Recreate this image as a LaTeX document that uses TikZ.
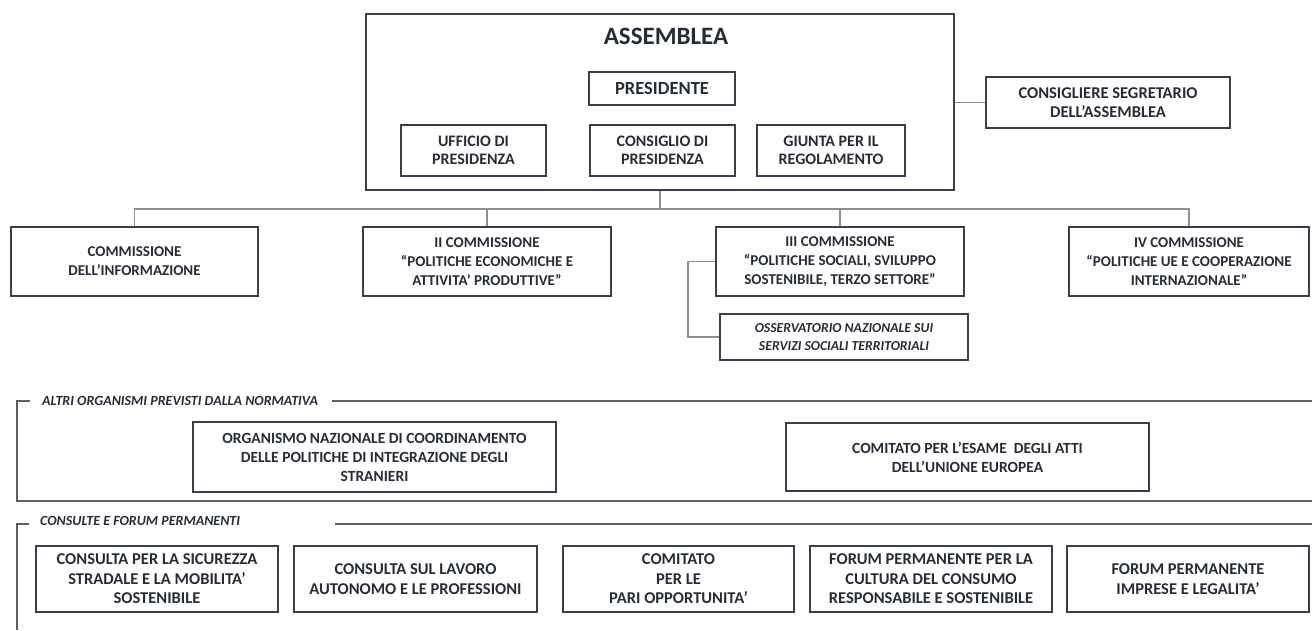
\documentclass[tikz,border=0pt]{standalone}
\usepackage{fontspec}
\setmainfont{Carlito}
\definecolor{txt}{HTML}{262C38}
\definecolor{bord}{HTML}{3A404B}
\definecolor{conn}{HTML}{8A8F98}
\definecolor{frm}{HTML}{5A606B}
\tikzset{
  box/.style={draw=bord, line width=1.7pt, rectangle, align=center, inner sep=0pt,
     text=txt, font=\fontsize{15}{19}\selectfont\bfseries},
  bigbox/.style={box, font=\fontsize{16.5}{19.5}\selectfont\bfseries},
  midbox/.style={box, font=\fontsize{15.5}{19}\selectfont\bfseries},
  topbox/.style={box, font=\fontsize{16}{18}\selectfont\bfseries},
  ibox/.style={box, font=\fontsize{13.7}{18}\selectfont\bfseries\itshape},
  conline/.style={draw=conn, line width=1.2pt},
  frline/.style={draw=frm, line width=1.5pt},
  ftitle/.style={anchor=west, inner sep=0pt, text=txt, font=\fontsize{14}{16}\selectfont\bfseries\itshape}
}
\begin{document}
\begin{tikzpicture}[x=1pt,y=-1pt]
\useasboundingbox (0,0) rectangle (1312,630);
% Assemblea block
\node[box, minimum width=588pt, minimum height=176pt] (assem) at (660,102) {};
\node[text=txt, font=\fontsize{25}{28}\selectfont\bfseries, inner sep=0pt] (assemt) at (666,36) {ASSEMBLEA};
\node[box, minimum width=146pt, minimum height=33pt, font=\fontsize{18.5}{20}\selectfont\bfseries] (pres) at (662,88.5) {PRESIDENTE};
\node[topbox, minimum width=145pt, minimum height=51pt] (uff) at (473.5,150.5) {UFFICIO DI\\PRESIDENZA};
\node[topbox, minimum width=145pt, minimum height=51pt] (cons) at (662.5,150.5) {CONSIGLIO DI\\PRESIDENZA};
\node[topbox, minimum width=148pt, minimum height=51pt] (giunta) at (831,150.5) {GIUNTA PER IL\\REGOLAMENTO};
\node[box, minimum width=244pt, minimum height=51pt, font=\fontsize{16.5}{18.5}\selectfont\bfseries] (segr) at (1108,102.5) {CONSIGLIERE SEGRETARIO\\DELL’ASSEMBLEA};
\draw[conline] (assem.east |- segr.west) -- (segr.west);
% Commissions
\node[box, minimum width=247pt, minimum height=69pt] (c1) at (134.5,261.5) {COMMISSIONE\\DELL’INFORMAZIONE};
\node[box, minimum width=248pt, minimum height=69pt] (c2) at (487,261.5) {II COMMISSIONE\\“POLITICHE ECONOMICHE E\\ATTIVITA’ PRODUTTIVE”};
\node[box, minimum width=248pt, minimum height=69pt] (c3) at (840,261.5) {III COMMISSIONE\\“POLITICHE SOCIALI, SVILUPPO\\SOSTENIBILE, TERZO SETTORE”};
\node[box, minimum width=240pt, minimum height=69pt] (c4) at (1189,261.5) {IV COMMISSIONE\\“POLITICHE UE E COOPERAZIONE\\INTERNAZIONALE”};
\node[ibox, minimum width=248pt, minimum height=46pt] (obs) at (844,337) {OSSERVATORIO NAZIONALE SUI\\SERVIZI SOCIALI TERRITORIALI};
\coordinate (bus) at (661,209);
\draw[conline] (assem.south) -- (assem.south |- bus);
\draw[conline] (c1.north) -- (c1.north |- bus) -- (c4.north |- bus) -- (c4.north);
\draw[conline] (c2.north) -- (c2.north |- bus);
\draw[conline] (c3.north) -- (c3.north |- bus);
\coordinate (obsx) at (688,0);
\draw[conline] (c3.west) -- (c3.west -| obsx) |- (obs.west);
% Frame 2
\node[ftitle] (f2t) at (42,401) {ALTRI ORGANISMI PREVISTI DALLA NORMATIVA};
\coordinate (f2tl) at (17,401);
\coordinate (f2bl) at (17,501);
\coordinate (f2br) at (1312,501);
\coordinate (f2tr) at (1312,401);
\draw[frline] (f2t.west) ++(-12,0) -- (f2tl) -- (f2bl) -- (f2br);
\draw[frline] (f2t.east) ++(14,0) -- (f2tr);
\node[midbox, minimum width=363pt, minimum height=70pt] (org) at (374.5,457) {ORGANISMO NAZIONALE DI COORDINAMENTO\\DELLE POLITICHE DI INTEGRAZIONE DEGLI\\STRANIERI};
\node[midbox, minimum width=363pt, minimum height=68pt] (ue) at (967.5,457) {COMITATO PER L’ESAME\ \ DEGLI ATTI\\DELL’UNIONE EUROPEA};
% Frame 3
\node[ftitle] (f3t) at (40,521) {CONSULTE E FORUM PERMANENTI};
\coordinate (f3tl) at (17,524);
\coordinate (f3bl) at (17,630);
\coordinate (f3tr) at (1312,524);
\coordinate (f3ls) at (335,524);
\draw[frline] (29,524) -- (f3tl) -- (f3bl);
\draw[frline] (f3ls) -- (f3tr);
\node[bigbox, minimum width=242pt, minimum height=66pt] (k1) at (157,579) {CONSULTA PER LA SICUREZZA\\STRADALE E LA MOBILITA’\\SOSTENIBILE};
\node[bigbox, minimum width=243pt, minimum height=66pt] (k2) at (415.5,579) {CONSULTA SUL LAVORO\\AUTONOMO E LE PROFESSIONI};
\node[bigbox, minimum width=231pt, minimum height=66pt] (k3) at (678.5,579) {COMITATO\\PER LE\\PARI OPPORTUNITA’};
\node[bigbox, minimum width=242pt, minimum height=66pt] (k4) at (931,579) {FORUM PERMANENTE PER LA\\CULTURA DEL CONSUMO\\RESPONSABILE E SOSTENIBILE};
\node[bigbox, minimum width=242pt, minimum height=66pt] (k5) at (1188,579) {FORUM PERMANENTE\\IMPRESE E LEGALITA’};
\end{tikzpicture}
\end{document}
